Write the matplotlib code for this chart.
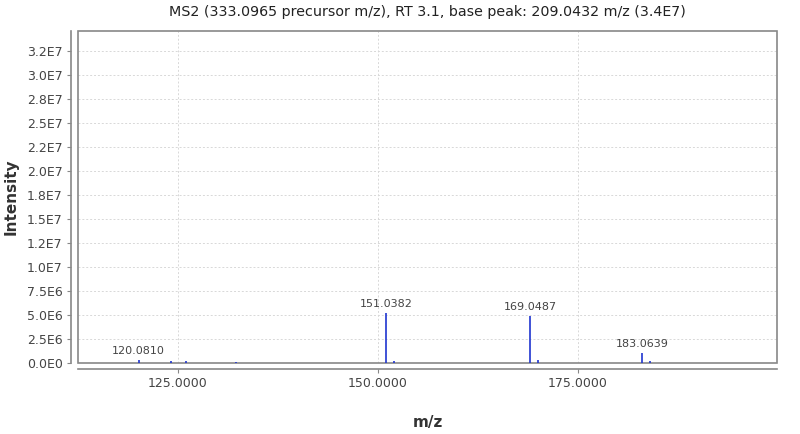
import matplotlib
matplotlib.use("Agg")
import matplotlib.pyplot as plt
from matplotlib.patches import Rectangle
from matplotlib.ticker import FuncFormatter, MultipleLocator

# peak list
mz = [120.0810, 124.10, 125.95, 132.30, 151.0382, 152.07, 169.0487, 170.05, 183.0639, 184.07]
intensity = [3.5e5, 2.5e5, 2.0e5, 1.0e5, 5.2e6, 2.5e5, 4.9e6, 3.5e5, 1.1e6, 2.5e5]
labelled = [120.0810, 151.0382, 169.0487, 183.0639]

title = "MS2 (333.0965 precursor m/z), RT 3.1, base peak: 209.0432 m/z (3.4E7)"
x_range = (112.5, 199.9)
y_max = 3.46e7


def sci_fmt(v, pos=None):
    if v == 0:
        return "0.0E0"
    mant, exp = f"{v:.1E}".split("E")
    return f"{mant}E{int(exp)}"


fig = plt.figure(figsize=(8, 4.34), dpi=100)
ax = fig.add_axes([0.0975, 0.1629, 0.8738, 0.7657])

ax.vlines(mz, 0, intensity, color="#1f35d0", linewidth=1.2)
for m, i in zip(mz, intensity):
    if m in labelled:
        ax.annotate(f"{m:.4f}", (m, i), xytext=(0, 3), textcoords="offset points",
                    ha="center", va="bottom", fontsize=8, color="#444444")

ax.set_xlim(*x_range)
ax.set_ylim(0, y_max)
ax.xaxis.set_major_locator(MultipleLocator(25))
ax.yaxis.set_major_locator(MultipleLocator(2.5e6))
ax.xaxis.set_major_formatter(FuncFormatter(lambda v, p: f"{v:.4f}"))
ax.yaxis.set_major_formatter(FuncFormatter(sci_fmt))

ax.grid(True, color="#d8d8d8", linestyle=(0, (2, 2)), linewidth=0.7)
ax.set_axisbelow(True)

for side in ("top", "right"):
    ax.spines[side].set_visible(False)
ax.spines["left"].set_position(("outward", 5))
ax.spines["bottom"].set_position(("outward", 4))
for side in ("left", "bottom"):
    ax.spines[side].set_color("#888888")
    ax.spines[side].set_linewidth(1.2)
ax.add_patch(Rectangle((0, 0), 1, 1, transform=ax.transAxes, fill=False,
                       edgecolor="#888888", linewidth=1.2, clip_on=False))

ax.tick_params(axis="both", colors="#888888", labelcolor="#444444", labelsize=9,
               length=3, width=0.8, pad=3)

ax.set_title(title, fontsize=10.3, color="#222222", pad=11)
ax.set_xlabel("m/z", fontsize=11, fontweight="bold", color="#333333")
ax.set_ylabel("Intensity", fontsize=11, fontweight="bold", color="#333333")
ax.xaxis.set_label_coords(0.5, -0.155)
ax.yaxis.set_label_coords(-0.0844, 0.5)

fig.savefig("out.png", dpi=100)
